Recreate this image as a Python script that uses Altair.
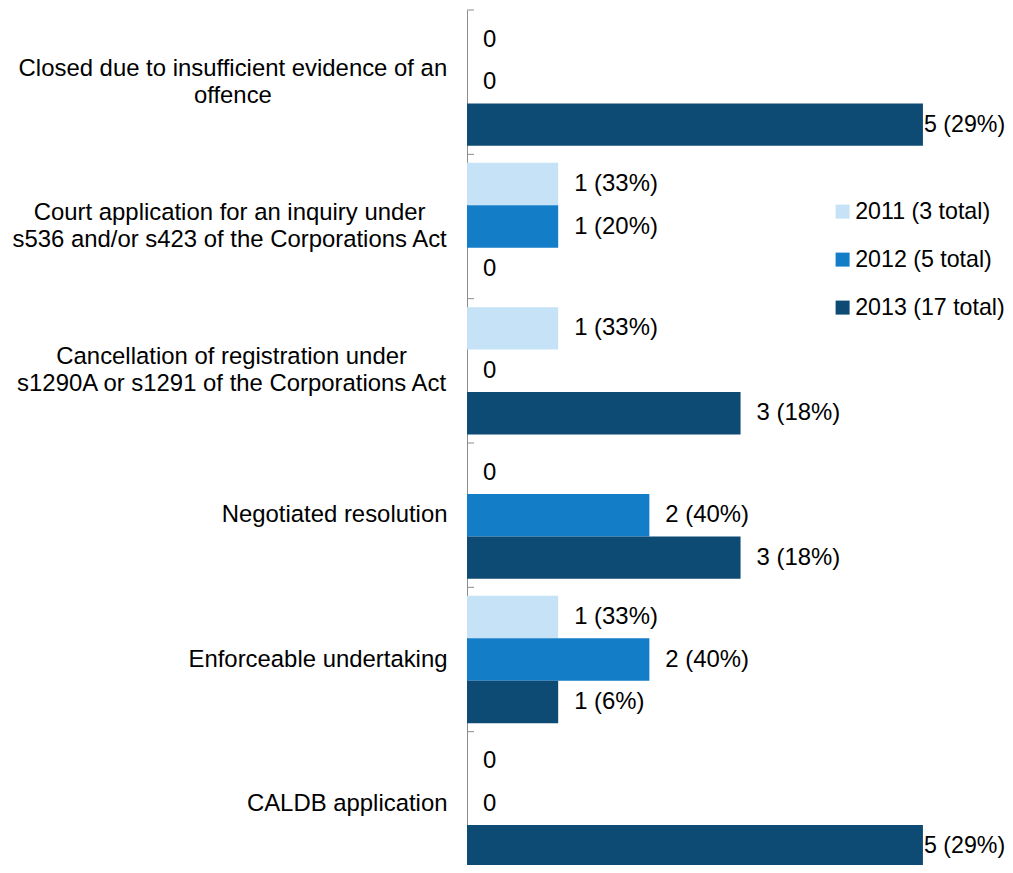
import altair as alt
import pandas as pd

categories = [
    "Closed due to insufficient evidence of an\noffence",
    "Court application for an inquiry under\ns536 and/or s423 of the Corporations Act",
    "Cancellation of registration under\ns1290A or s1291 of the Corporations Act",
    "Negotiated resolution",
    "Enforceable undertaking",
    "CALDB application",
]
series = ["2011", "2012", "2013"]
totals = [3, 5, 17]
values_2011 = [0, 1, 1, 0, 1, 0]
values_2012 = [0, 1, 0, 2, 2, 0]
values_2013 = [5, 0, 3, 3, 1, 5]
colors = ["#C5E2F7", "#137DC8", "#0D4A74"]

FONT = "Liberation Sans"
FS = 23.9
LINE_H = 27

# Arial / Liberation Sans advance widths (1/1000 em) used to centre the
# multi-line category labels as a block that ends 20px left of the axis.
_W = dict(zip("abcdefghijklmnopqrstuvwxyz",
              [556, 556, 500, 556, 556, 278, 556, 556, 222, 222, 500, 222, 833,
               556, 556, 556, 556, 333, 500, 278, 556, 500, 722, 500, 500, 500]))
_W.update(dict(zip("ABCDEFGHIJKLMNOPQRSTUVWXYZ",
                   [667, 667, 722, 722, 667, 611, 778, 722, 278, 500, 667, 556, 833,
                    722, 778, 667, 778, 722, 667, 611, 722, 667, 944, 667, 667, 611])))
_W.update({d: 556 for d in "0123456789"})
_W.update({" ": 278, "/": 278, "(": 333, ")": 333, "%": 889, ".": 278, ",": 278, "-": 333})


def text_width(s):
    return sum(_W.get(c, 556) for c in s) * FS / 1000.0


half_widths = [max(text_width(line) for line in c.split("\n")) / 2 for c in categories]
line_shift = [-(len(c.split("\n")) - 1) * LINE_H / 2 for c in categories]
cat_list = ", ".join("'" + c.replace("\n", "\\n") + "'" for c in categories)
pad_expr = "[{}][indexof([{}], datum.value)] + 20".format(
    ", ".join(f"{h:.1f}" for h in half_widths), cat_list)
off_expr = "[{}][indexof([{}], datum.value)]".format(
    ", ".join(f"{s:.1f}" for s in line_shift), cat_list)

rows = []
for s, tot, vals in zip(series, totals, [values_2011, values_2012, values_2013]):
    for c, v in zip(categories, vals):
        lab = "0" if v == 0 else f"{v} ({round(100 * v / tot)}%)"
        rows.append({"category": c, "series": s, "legend": f"{s} ({tot} total)",
                     "value": v, "label": lab})
df = pd.DataFrame(rows)
legend_domain = [f"{s} ({t} total)" for s, t in zip(series, totals)]

yaxis = alt.Axis(
    title=None, ticks=False, domain=True, domainColor="#8c8c8c", domainWidth=1,
    labelFont=FONT, labelFontSize=FS, labelColor="#000000",
    labelAlign="center", labelBaseline="middle", labelLineHeight=LINE_H,
    labelLimit=600, labelExpr="split(datum.label, '\\n')",
    labelPadding=alt.ExprRef(pad_expr),
    labelOffset=alt.ExprRef(off_expr),
)
yscale = alt.Scale(paddingInner=0, paddingOuter=0)

y_enc = alt.Y("category:N", sort=categories, axis=yaxis, scale=yscale)
yoff = alt.YOffset("series:N", sort=series, scale=alt.Scale(paddingInner=0, paddingOuter=0.2))
x_enc = alt.X("value:Q", scale=alt.Scale(domain=[0, 5.9], nice=False, zero=True), axis=None)

base = alt.Chart(df)

bars = base.mark_bar().encode(
    x=x_enc,
    y=y_enc,
    yOffset=yoff,
    color=alt.Color(
        "legend:N", sort=legend_domain,
        scale=alt.Scale(domain=legend_domain, range=colors),
        legend=alt.Legend(
            title=None, orient="none", legendX=364, legendY=190,
            symbolType="square", symbolSize=196, symbolStrokeWidth=0,
            labelFont=FONT, labelFontSize=23.2, labelColor="#000000",
            rowPadding=24, labelOffset=1, padding=0, labelLimit=300,
        ),
    ),
)

text_small = base.transform_filter("datum.value < 5").mark_text(
    align="left", baseline="middle", dx=16, font=FONT, fontSize=FS, color="#000000"
).encode(x=x_enc, y=y_enc, yOffset=yoff, text="label:N")

text_big = base.transform_filter("datum.value >= 5").mark_text(
    align="left", baseline="middle", dx=1, font=FONT, fontSize=23.2, color="#000000"
).encode(x=x_enc, y=y_enc, yOffset=yoff, text="label:N")

tick_df = pd.DataFrame({"category": categories})
ticks = alt.Chart(tick_df).mark_rule(color="#8c8c8c", strokeWidth=1).encode(
    y=alt.Y("category:N", sort=categories, axis=yaxis, scale=yscale, bandPosition=0),
    x=alt.value(0),
    x2=alt.value(7),
)

chart = alt.layer(bars, text_small, text_big, ticks).properties(
    width=538,
    height=866,
    autosize=alt.AutoSizeParams(type="none"),
    padding={"left": 459, "top": 2, "right": 0, "bottom": -11},
).configure_view(stroke=None)

chart.save("out.html", embed_options={"renderer": "svg", "actions": False})
